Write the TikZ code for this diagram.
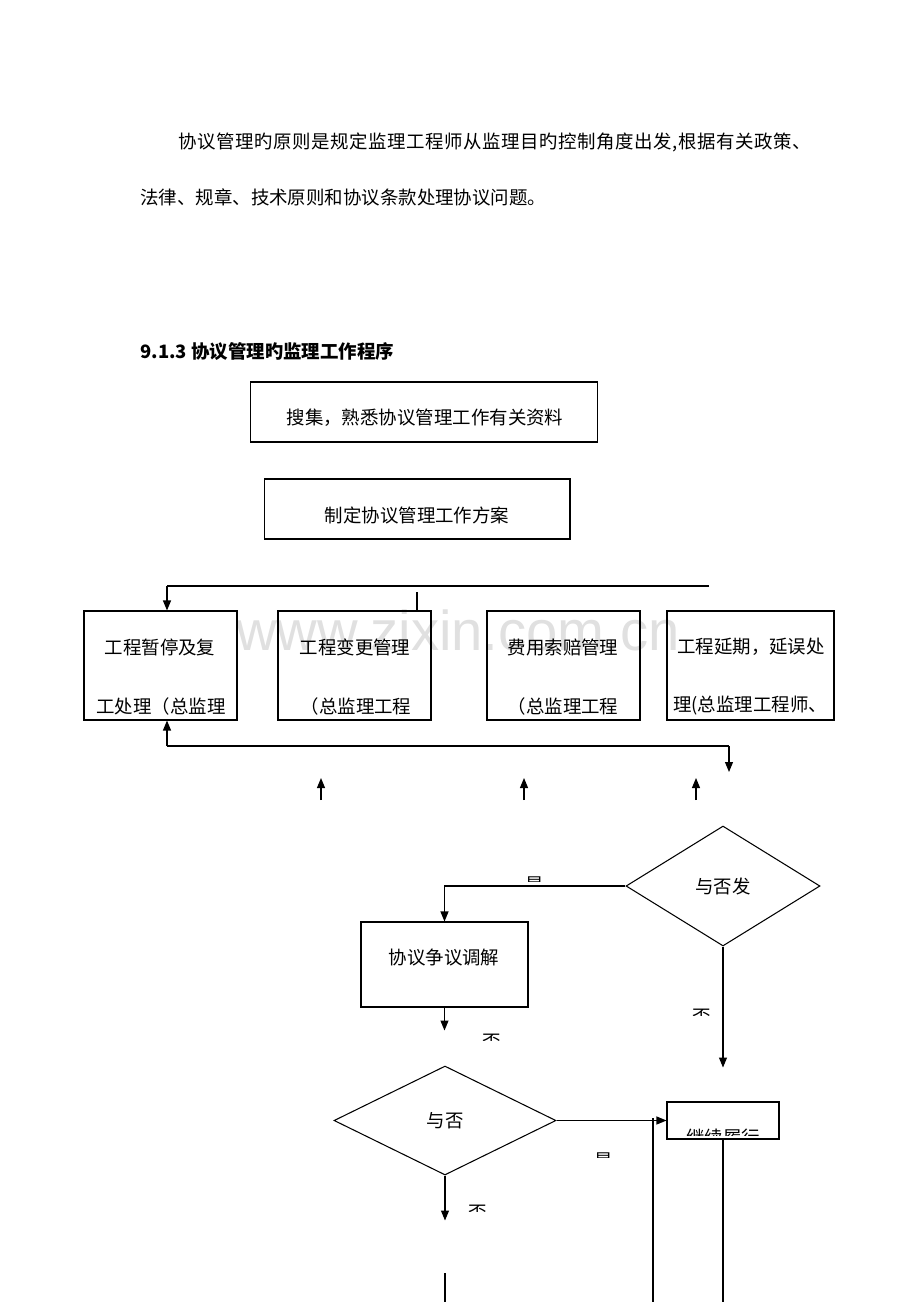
\documentclass[tikz,border=0pt]{standalone}
\usepackage{fontspec}
\newfontfamily\cjk{Noto Sans CJK SC}
\newfontfamily\cjkwide[LetterSpace=3]{Noto Sans CJK SC}
\newfontfamily\webfont{Liberation Sans}
\usetikzlibrary{shapes,arrows,positioning,calc,arrows.meta}

\begin{document}
\begin{tikzpicture}[x=0.02cm, y=-0.02cm, >={Triangle[length=0.2cm,width=0.16cm]},
    flow box/.style={draw, rectangle, line width=0.6pt, inner sep=0pt},
    judge/.style={draw, diamond, line width=0.6pt, inner sep=0pt, font=\cjk\fontsize{10.5}{12}\selectfont},
    cjktext/.style={font=\cjk\fontsize{10.5}{12}\selectfont, inner sep=0pt},
    link/.style={line width=0.6pt}]
    \useasboundingbox (0,0) rectangle (920,1302);

    % watermark
    \node[text=black!12, font=\webfont\fontsize{32}{32}\selectfont, inner sep=0pt, anchor=base] (mark) at (458,650) {www.zixin.com.cn};

    % text above the chart
    \node[cjktext, anchor=west] (para1) at (178,142) {\cjkwide 协议管理旳原则是规定监理工程师从监理目旳控制角度出发,根据有关政策、};
    \node[cjktext, anchor=west] (para2) at (140,197) {法律、规章、技术原则和协议条款处理协议问题。};
    \node[cjktext, anchor=west, font=\cjk\bfseries\fontsize{10.5}{12}\selectfont] (title) at (140,352) {9.1.3 协议管理旳监理工作程序};

    % boxes
    \node[flow box, minimum width=6.96cm, minimum height=1.2cm] (collect) at (424,412) {};
    \node[cjktext] (collecttxt) at (425,418) {搜集，熟悉协议管理工作有关资料};
    \node[flow box, minimum width=6.12cm, minimum height=1.2cm] (plan) at (417,509) {};
    \node[cjktext] (plantxt) at (417,515) {制定协议管理工作方案};

    \node[flow box, minimum width=3.06cm, minimum height=2.18cm] (stop) at (160.5,665.5) {};
    \node[flow box, minimum width=3.06cm, minimum height=2.18cm] (change) at (354.5,665.5) {};
    \node[flow box, minimum width=3.06cm, minimum height=2.18cm] (claim) at (563.5,665.5) {};
    \node[flow box, minimum width=3.34cm, minimum height=2.18cm] (delay) at (750.5,665.5) {};
    \node[cjktext] (stopa) at (160,647) {工程暂停及复};
    \node[cjktext] (stopb) at (161,706) {工处理（总监理};
    \node[cjktext] (changea) at (355,647) {工程变更管理};
    \node[cjktext] (changeb) at (356,706) {（总监理工程};
    \node[cjktext] (claima) at (563,647) {费用索赔管理};
    \node[cjktext] (claimb) at (563,706) {（总监理工程};
    \node[cjktext] (delaya) at (751,647) {工程延期，延误处};
    \node[cjktext] (delayb) at (750,706) {理(总监理工程师、};

    \node[judge, minimum width=3.88cm, minimum height=2.4cm] (ask1) at (723,886) {与否发};
    \node[flow box, minimum width=3.34cm, minimum height=1.7cm] (mediate) at (444.5,964.5) {};
    \node[cjktext] (mediatetxt) at (444,958) {协议争议调解};
    \node[judge, minimum width=4.44cm, minimum height=2.18cm] (ask2) at (445,1120.5) {与否};
    \node[flow box, minimum width=2.24cm, minimum height=0.74cm] (keep) at (723,1120.5) {};

    % connectors round the four boxes
    \coordinate (topleft) at (167,586);
    \coordinate (topright) at (709,586);
    \coordinate (topmid) at (417,592);
    \draw[link] (topright) -- (topleft);
    \draw[link,->] (topleft) -- (topleft |- stop.north);
    \draw[link] (topmid) -- (topmid |- change.north);
    \coordinate (baseleft) at (167,746);
    \coordinate (baseright) at (729,746);
    \coordinate (baseend) at (729,772);
    \draw[link,->] (baseleft) -- (baseleft |- stop.south);
    \draw[link] (baseleft) -- (baseright);
    \draw[link,->] (baseright) -- (baseend);
    \foreach \x/\n in {321/b,524/c,696/d} {
        \coordinate (up\n) at (\x,800);
        \draw[link,->] (up\n) -- ++(0,-22);
    }

    % decisions
    \draw[link,->] (ask1.west) -| (mediate.north);
    \draw[link,->] (mediate.south) -- ++(0,23);
    \draw[link,->] (ask1.south) -- ++(0,121);
    \draw[link,->] (ask2.east) -- (keep.west);
    \draw[link,->] (ask2.south) -- ++(0,45);
    \coordinate (backtop) at (653,1118);
    \coordinate (backend) at (653,1302);
    \draw[link] (backtop) -- (backend);
    \coordinate (keepend) at (723,1302);
    \draw[link] (keep.south) -- (keepend);
    \coordinate (lowtop) at (445,1273);
    \coordinate (lowend) at (445,1302);
    \draw[link] (lowtop) -- (lowend);

    % half hidden labels
    \begin{scope}
        \clip (524,875) rectangle (546,881);
        \node[cjktext, anchor=north] (yes1) at (535,876) {是};
    \end{scope}
    \begin{scope}
        \clip (480,1033) rectangle (504,1040);
        \node[cjktext, anchor=north] (no1) at (492,1034) {否};
    \end{scope}
    \begin{scope}
        \clip (690,1008) rectangle (714,1015);
        \node[cjktext, anchor=north] (no2) at (702,1009) {否};
    \end{scope}
    \begin{scope}
        \clip (593,1151) rectangle (615,1157);
        \node[cjktext, anchor=north] (yes2) at (604,1152) {是};
    \end{scope}
    \begin{scope}
        \clip (466,1204) rectangle (490,1211);
        \node[cjktext, anchor=north] (no3) at (478,1205) {否};
    \end{scope}
    \begin{scope}
        \clip (668,1103) rectangle (778,1135);
        \node[cjktext, anchor=north] (keeptxt) at (723,1129) {继续履行};
    \end{scope}
\end{tikzpicture}
\end{document}
